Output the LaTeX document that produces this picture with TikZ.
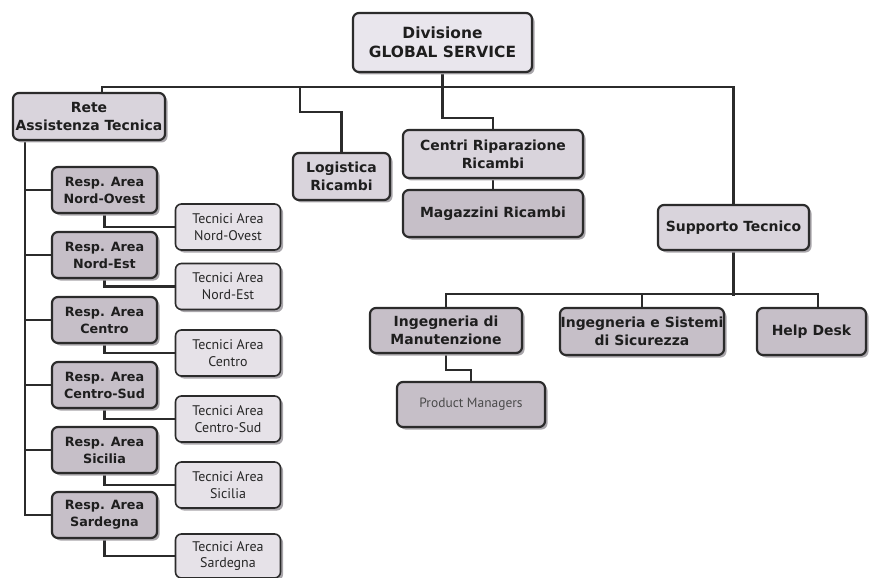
\documentclass[tikz,border=0pt]{standalone}
\usepackage{fontspec}
\setmainfont{DejaVu Sans}
\newfontfamily\thinfont{PT Sans}
\usetikzlibrary{shadows,backgrounds}
\definecolor{lineC}{HTML}{2B2B2B}
\definecolor{topF}{HTML}{E9E6ED}
\definecolor{mainF}{HTML}{D9D4DC}
\definecolor{subF}{HTML}{C6BFC8}
\definecolor{tecF}{HTML}{E6E2E8}
\definecolor{shadowC}{HTML}{A9A6AB}
\definecolor{txtC}{HTML}{1E1E1E}
\definecolor{pmTxt}{HTML}{4A4A4A}
\begin{document}
\begin{tikzpicture}[x=1bp,y=-1bp,
  box/.style={draw=lineC, line width=2.2bp, rounded corners=6bp, align=center,
    inner sep=0pt, text=txtC, font=\bfseries\fontsize{14}{18}\selectfont,
    drop shadow={shadow xshift=2.5bp, shadow yshift=-2.5bp, fill=shadowC, opacity=1}},
  topbox/.style={box, fill=topF, font=\bfseries\fontsize{15.5}{19.5}\selectfont},
  mainbox/.style={box, fill=mainF},
  subbox/.style={box, fill=subF},
  respbox/.style={box, fill=subF, minimum width=105bp, minimum height=46bp,
    font=\bfseries\fontsize{12.8}{17}\selectfont},
  tecbox/.style={box, fill=tecF, line width=1.6bp, minimum width=105bp, minimum height=46bp,
    font=\thinfont\fontsize{14}{17}\selectfont, text=black!85},
  conn/.style={draw=lineC, line width=2.3bp}]
\useasboundingbox (0,0) rectangle (869,578);

% top
\node[topbox, minimum width=179bp, minimum height=59bp] (div) at (442.5,42.5) {Divisione\\GLOBAL SERVICE};
% first level
\node[mainbox, minimum width=152bp, minimum height=47bp] (rete) at (89,116.5) {Rete\\Assistenza Tecnica};
\node[mainbox, minimum width=97bp, minimum height=47bp] (log) at (341.5,176.5) {Logistica\\Ricambi};
\node[mainbox, minimum width=180bp, minimum height=48bp] (centri) at (493,154) {Centri Riparazione\\Ricambi};
\node[subbox, minimum width=180bp, minimum height=47bp] (mag) at (493,213.5) {Magazzini Ricambi};
\node[mainbox, minimum width=151bp, minimum height=45bp] (sup) at (733.5,227.5) {Supporto Tecnico};
% second level right
\node[subbox, minimum width=152bp, minimum height=45bp] (ingm) at (446,330.5) {Ingegneria di\\Manutenzione};
\node[subbox, minimum width=164bp, minimum height=47bp] (ings) at (642,331.5) {Ingegneria e Sistemi\\di Sicurezza};
\node[subbox, minimum width=109bp, minimum height=47bp] (help) at (811.5,331.5) {Help Desk};
\node[subbox, minimum width=148bp, minimum height=45bp, font=\thinfont\fontsize{13.5}{15}\selectfont, text=pmTxt] (pm) at (471,404.5) {Product Managers};

% left column
\node[respbox] (r1) at (104.5,190) {Resp. Area\\Nord-Ovest};
\node[respbox] (r2) at (104.5,255) {Resp. Area\\Nord-Est};
\node[respbox] (r3) at (104.5,320) {Resp. Area\\Centro};
\node[respbox] (r4) at (104.5,385) {Resp. Area\\Centro-Sud};
\node[respbox] (r5) at (104.5,450) {Resp. Area\\Sicilia};
\node[respbox] (r6) at (104.5,515) {Resp. Area\\Sardegna};

\node[tecbox] (t1) at (228,227) {Tecnici Area\\Nord-Ovest};
\node[tecbox] (t2) at (228,286.5) {Tecnici Area\\Nord-Est};
\node[tecbox] (t3) at (228,353) {Tecnici Area\\Centro};
\node[tecbox] (t4) at (228,419) {Tecnici Area\\Centro-Sud};
\node[tecbox] (t5) at (228,485) {Tecnici Area\\Sicilia};
\node[tecbox, minimum height=44bp] (t6) at (228,556) {Tecnici Area\\Sardegna};

% coordinates
\coordinate (b1) at (102,87);
\coordinate (b2) at (733.5,87);
\coordinate (l1) at (300,87);
\coordinate (rv) at (25,0);

% connectors
\begin{scope}[on background layer]
\draw[conn] (rete.north -| b1) -- (b1) -- (b2) -- (sup.north);
\draw[conn] (l1) -- ++(0,25) -| (log.north);
\draw[conn] (div.south) -- ++(0,45) -| (centri.north);
\draw[conn] (centri.south) -- (mag.north);
\draw[conn] (sup.south) -- ++(0,44.5);
\draw[conn] (ingm.north) -- ++(0,-13) -| ([xshift=6.5bp]help.north);
\draw[conn] (ings.north) -- ++(0,-14);
\draw[conn] (ingm.south) -- ++(0,16) -| (pm.north);
\draw[conn] (rete.south -| rv) |- (r6.west);
\foreach \i in {1,...,5}{
  \draw[conn] (r\i.west) -- (r\i.west -| rv);
}
\foreach \i in {1,...,6}{
  \draw[conn] (r\i.south) |- (t\i.west);
}
\end{scope}
\end{tikzpicture}
\end{document}
